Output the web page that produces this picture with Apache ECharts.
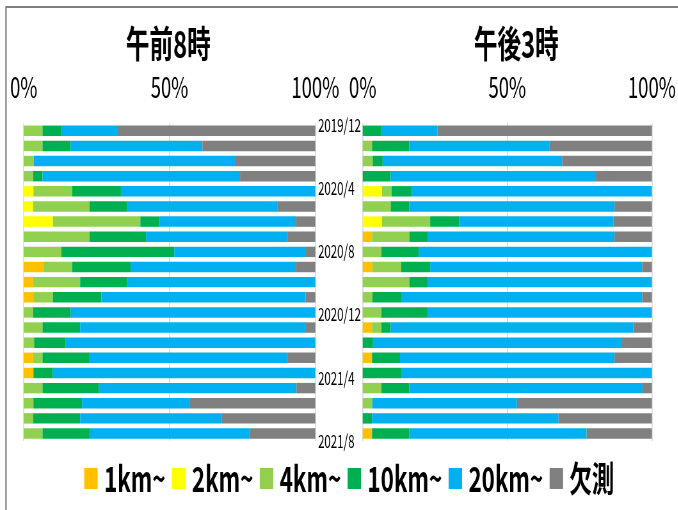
<!DOCTYPE html>
<html>
<head>
<meta charset="utf-8">
<script src="https://cdn.jsdelivr.net/npm/echarts@6/dist/echarts.min.js"></script>
<style>
  html, body { margin: 0; padding: 0; overflow: hidden; background: #fff; width: 678px; height: 510px; }
  #chart { height: 510px; transform-origin: 0 0; }
</style>
</head>
<body>
<div id="chart"></div>
<script>
// Monthly counts of days per visibility class, two observation times.
const months = ['2019/12','2020/1','2020/2','2020/3','2020/4','2020/5','2020/6','2020/7','2020/8',
  '2020/9','2020/10','2020/11','2020/12','2021/1','2021/2','2021/3','2021/4','2021/5','2021/6','2021/7','2021/8'];
const classNames = ['1km~', '2km~', '4km~', '10km~', '20km~', '欠測'];
const panelTitles = ['午前8時', '午後3時'];
const tickValues = [0, 50, 100];

// 午前8時
const am1km  = [0,0,0,0,0,0,0,0,0,2,1,1,0,0,0,1,1,0,0,0,0];
const am2km  = [0,0,0,0,1,1,3,0,0,0,0,0,0,0,0,0,0,0,0,0,0];
const am4km  = [2,2,1,1,4,6,9,7,4,3,5,2,1,2,1,1,0,2,1,1,2];
const am10km = [2,3,0,1,5,4,2,6,12,6,5,5,4,4,3,5,2,6,5,5,5];
const am20km = [6,14,20,21,20,16,14,15,14,17,20,21,26,24,24,21,27,21,11,15,17];
const amMiss = [21,12,8,8,0,4,2,3,1,2,0,1,0,1,0,3,0,2,13,10,7];

// 午後3時
const pm1km  = [0,0,0,0,0,0,0,1,0,1,0,0,0,1,0,1,0,0,0,0,1];
const pm2km  = [0,0,0,0,2,0,2,0,0,0,0,0,0,0,0,0,0,0,0,0,0];
const pm4km  = [0,1,1,0,1,3,5,4,2,3,5,1,2,1,0,0,0,2,1,0,0];
const pm10km = [2,4,1,3,2,2,3,2,4,3,2,3,5,1,1,3,4,3,0,1,4];
const pm20km = [6,15,18,22,25,22,16,20,25,22,24,25,24,26,24,23,26,25,15,20,19];
const pmMiss = [23,11,9,6,0,4,4,4,0,1,0,1,0,2,3,4,0,1,14,10,7];

const colors = ['#FFC000', '#FFFF00', '#92D050', '#00B050', '#00B0F0', '#808080'];
const FONT = '"Noto Sans CJK JP", "Noto Sans", sans-serif';

// Text in this chart is horizontally condensed; the canvas is laid out wide and squeezed.
const SX = 0.64;
const W = 678 / SX;
const px = v => v / SX;
const el = document.getElementById('chart');
el.style.width = W + 'px';
el.style.transform = 'scaleX(' + SX + ')';

function toPercent(groups) {
  const totals = months.map((_, i) => groups.reduce((s, g) => s + g[i], 0));
  return groups.map(g => g.map((v, i) => +(v / totals[i] * 100).toFixed(3)));
}
const amPct = toPercent([am1km, am2km, am4km, am10km, am20km, amMiss]);
const pmPct = toPercent([pm1km, pm2km, pm4km, pm10km, pm20km, pmMiss]);

const plotTop = 123.2, plotH = 317.9, plotW = 291.6;
const panelLeft = [23.7, 362.7];

const grids = [
  { left: px(panelLeft[0]), width: px(plotW), top: plotTop, height: plotH },
  { left: px(panelLeft[1]), width: px(plotW), top: plotTop, height: plotH },
  { left: px(330), width: px(20), top: 125, height: 316 }
];

const valueAxis = idx => ({
  gridIndex: idx, type: 'value', position: 'top', min: 0, max: 100, interval: 50,
  axisLine: { show: false }, axisTick: { show: false },
  splitLine: { show: true, lineStyle: { color: '#d9d9d9', width: 1.6 } },
  axisLabel: {
    formatter: v => tickValues.includes(v) ? v + '%' : '',
    fontSize: 29, fontFamily: FONT, color: '#000', margin: 22
  }
});
const catAxis = idx => ({
  gridIndex: idx, type: 'category', data: months, inverse: true,
  axisLine: { show: false }, axisTick: { show: false }, axisLabel: { show: false }
});

const series = [];
[amPct, pmPct].forEach((groups, p) => {
  groups.forEach((data, k) => {
    series.push({
      type: 'bar', name: classNames[k], stack: 'panel' + p,
      xAxisIndex: p, yAxisIndex: p, barCategoryGap: '31%',
      itemStyle: { color: colors[k] }, emphasis: { disabled: true },
      data: data
    });
  });
});

const chart = echarts.init(el, null, { renderer: 'canvas' });
chart.setOption({
  animation: false,
  backgroundColor: '#fff',
  title: panelTitles.map((t, i) => ({
    text: t, left: px([165, 513][i]), top: 20, textAlign: 'center',
    textStyle: { fontSize: 37, fontWeight: 'bold', fontFamily: FONT, color: '#000' }
  })),
  grid: grids,
  xAxis: [valueAxis(0), valueAxis(1), { gridIndex: 2, type: 'value', show: false }],
  yAxis: [catAxis(0), catAxis(1), {
    gridIndex: 2, type: 'category', data: months, inverse: true, boundaryGap: false,
    axisLine: { show: false }, axisTick: { show: false },
    axisLabel: { interval: 3, align: 'left', margin: px(12), fontSize: 18, fontFamily: FONT, color: '#000' }
  }],
  legend: {
    data: classNames, left: px(81), top: 456, icon: 'rect',
    itemWidth: 21, itemHeight: 21, itemGap: 10,
    textStyle: { fontSize: 35, fontWeight: 'bold', fontFamily: FONT, color: '#000', padding: [0, 0, 0, 5] }
  },
  graphic: [{
    type: 'rect', silent: true,
    shape: { x: px(6), y: 7, width: W, height: 600 },
    style: { fill: 'none', stroke: '#7f7f7f', lineWidth: 2.2 }
  }],
  series: series
});
</script>
</body>
</html>
